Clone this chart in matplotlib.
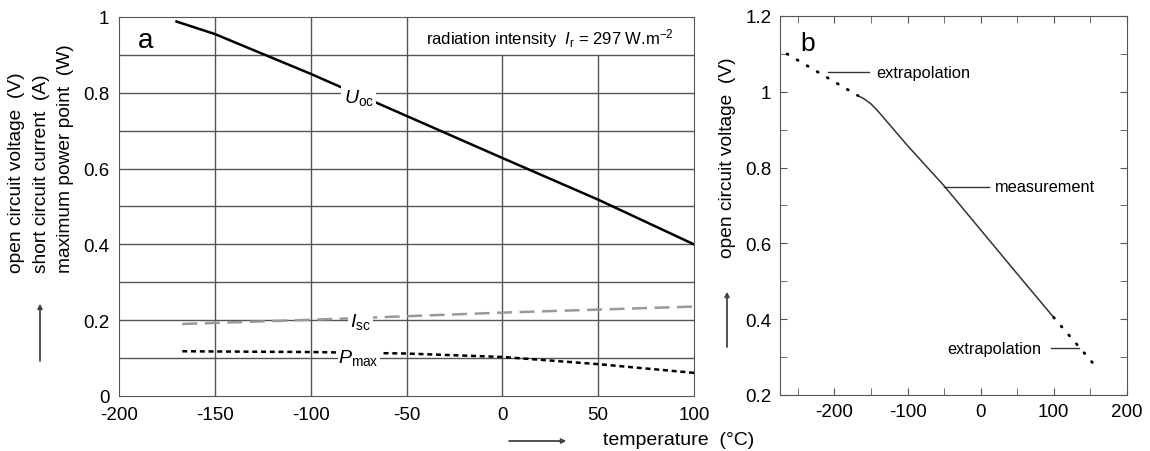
"""Solar cell temperature dependence: panel a (Uoc, Isc, Pmax) and panel b (Voc with extrapolation)."""

from matplotlib import pyplot as plt

plt.rcParams["font.family"] = ["Liberation Sans", "DejaVu Sans"]
plt.rcParams["mathtext.fontset"] = "custom"
plt.rcParams["mathtext.rm"] = "Liberation Sans"
plt.rcParams["mathtext.it"] = "Liberation Sans:italic"
plt.rcParams["axes.unicode_minus"] = False

# panel a
temp_uoc = [-170, -150, -100, -50, 0, 50, 100]
uoc = [0.988, 0.955, 0.85, 0.739, 0.628, 0.518, 0.40]
temp_isc = [-167, -100, 0, 100]
isc = [0.19, 0.201, 0.22, 0.236]
temp_pmax = [-167, -100, -50, 0, 50, 100]
pmax = [0.118, 0.116, 0.112, 0.103, 0.084, 0.061]

# panel b
temp_meas = [-168, -160, -150, -140, -100, -50, 0, 50, 100]
voc_meas = [0.99, 0.982, 0.968, 0.948, 0.858, 0.752, 0.636, 0.52, 0.405]
temp_ext_lo = [-265, -168]
voc_ext_lo = [1.10, 0.99]
temp_ext_hi = [100, 161]
voc_ext_hi = [0.405, 0.268]

GRID = "#555555"
W, H = 1150, 452
fig = plt.figure(figsize=(11.5, 4.52), dpi=100)


def arrow(x0, y0, x1, y1):
    # pixel coordinates from the top-left corner
    fig.add_artist(plt.annotate(
        "", xy=(x1 / W, 1 - y1 / H), xytext=(x0 / W, 1 - y0 / H),
        xycoords="figure fraction", textcoords="figure fraction",
        arrowprops=dict(arrowstyle="-|>", mutation_scale=7, lw=1, color="#444444", shrinkA=0, shrinkB=0),
    ))


# ---- panel a ----
ax = fig.add_axes([0.1035, 0.1217, 0.5, 0.8385])
ax.set_xlim(-200, 100)
ax.set_ylim(0, 1)
for y in [0.1, 0.2, 0.3, 0.4, 0.5, 0.6, 0.7, 0.8, 0.9]:
    ax.axhline(y, color=GRID, lw=1, zorder=1)
for x in [-150, -100, -50]:
    ax.axvline(x, color=GRID, lw=1, zorder=1)
for x in [0, 50]:
    ax.vlines(x, 0, 0.9, color=GRID, lw=1, zorder=1)
for s in ax.spines.values():
    s.set_color(GRID)
ax.set_xticks([-200, -150, -100, -50, 0, 50, 100])
ax.set_yticks([0, 0.2, 0.4, 0.6, 0.8, 1.0])
ax.set_yticklabels(["0", "0.2", "0.4", "0.6", "0.8", "1"])
ax.tick_params(length=0, labelsize=13.5, pad=7)

ax.plot(temp_uoc, uoc, color="black", lw=1.8, zorder=3)
ax.plot(temp_isc, isc, color="#999999", lw=1.8, dashes=(6, 3), zorder=3)
ax.plot(temp_pmax, pmax, color="black", lw=1.8, dashes=(2, 1.5), zorder=3)

box = dict(facecolor="white", edgecolor="none", pad=1.5)
ax.text(-75, 0.79, r"$U_{\mathrm{oc}}$", fontsize=14, ha="center", va="center", bbox=box, zorder=4)
ax.text(-74, 0.198, r"$I_{\mathrm{sc}}$", fontsize=14, ha="center", va="center", bbox=box, zorder=4)
ax.text(-75, 0.103, r"$P_{\mathrm{max}}$", fontsize=14, ha="center", va="center",
        bbox=dict(facecolor="white", edgecolor="none", pad=0.5), zorder=4)
ax.text(-190, 0.94, "a", fontsize=20, ha="left", va="center")
ax.text(25, 0.947, r"radiation intensity  $I_{\mathrm{r}}$ = 297 W.m$^{-2}$", fontsize=12,
        ha="center", va="center")

fig.text(17 / W, 1 - 273 / H, "open circuit voltage  (V)", rotation=90, fontsize=13.8,
         ha="center", va="bottom")
fig.text(42 / W, 1 - 273 / H, "short circuit current  (A)", rotation=90, fontsize=13.8,
         ha="center", va="bottom")
fig.text(66 / W, 1 - 273 / H, "maximum power point  (W)", rotation=90, fontsize=13.8,
         ha="center", va="bottom")
arrow(40, 362, 40, 305)

fig.text(603 / W, 1 - 441 / H, "temperature  (\u00b0C)", fontsize=14, ha="left", va="center")
arrow(509, 442, 566, 442)

# ---- panel b ----
bx = fig.add_axes([0.678, 0.1239, 0.3017, 0.8385])
bx.set_xlim(-275, 200)
bx.set_ylim(0.2, 1.2)
for s in bx.spines.values():
    s.set_color(GRID)
bx.set_xticks([-200, -100, 0, 100, 200])
bx.set_xticks([-250, -150, -50, 50, 150], minor=True)
bx.set_yticks([0.2, 0.4, 0.6, 0.8, 1.0, 1.2])
bx.set_yticklabels(["0.2", "0.4", "0.6", "0.8", "1", "1.2"])
bx.set_yticks([0.3, 0.5, 0.7, 0.9, 1.1], minor=True)
bx.tick_params(which="both", direction="in", top=True, right=True, length=5, color=GRID)
bx.tick_params(which="major", labelsize=13.5, pad=6)

bx.plot(temp_meas, voc_meas, color="#333333", lw=1.1)
bx.plot(temp_ext_lo, voc_ext_lo, color="black", lw=2, dashes=(0.4, 3.8), dash_capstyle="round")
bx.plot(temp_ext_hi, voc_ext_hi, color="black", lw=2, dashes=(0.4, 3.8), dash_capstyle="round")

bx.plot([-209, -153], [1.052, 1.052], color="#333333", lw=1)
bx.text(-143, 1.052, "extrapolation", fontsize=11.8, ha="left", va="center")
bx.plot([-50, 11], [0.749, 0.749], color="#333333", lw=1)
bx.text(20, 0.749, "measurement", fontsize=11.8, ha="left", va="center")
bx.plot([96, 135], [0.323, 0.323], color="#333333", lw=1)
bx.text(-45, 0.323, "extrapolation", fontsize=11.8, ha="left", va="center")
bx.text(-247, 1.13, "b", fontsize=19, ha="left", va="center")

fig.text(727 / W, 1 - 258 / H, "open circuit voltage  (V)", rotation=90, fontsize=13.8,
         ha="center", va="bottom")
arrow(727, 348, 727, 293)

fig.savefig("out.png", dpi=100)
